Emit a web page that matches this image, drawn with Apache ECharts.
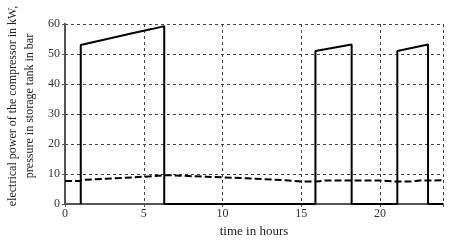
<!DOCTYPE html>
<html><head><meta charset="utf-8">
<script src="https://cdn.jsdelivr.net/npm/echarts@6/dist/echarts.min.js"></script>
<style>html,body{margin:0;padding:0;background:#fff}#c{width:450px;height:240px}</style>
</head><body><div id="c"></div>
<script>
var powerHours  = [1, 1, 4.2, 5.5, 6.3, 6.3, 15.9, 15.9, 18.2, 18.2, 21.1, 21.1, 23.05, 23.05, 24];
var powerValues = [0, 53, 56.8, 58.3, 59.3, 0, 0, 51, 53.2, 0, 0, 51, 53.2, 0, 0];
var pressureHours  = [0, 1, 1.3, 3, 5, 6.5, 7.5, 9, 10, 11.5, 12.5, 14, 15, 16, 16.5, 19, 20, 21, 22, 22.5, 24];
var pressureValues = [7.7, 7.7, 8.1, 8.5, 9.1, 9.6, 9.4, 9.1, 8.9, 8.6, 8.3, 7.9, 7.5, 7.5, 7.8, 7.8, 7.8, 7.5, 7.5, 7.8, 7.9];
var xTicks = [0, 5, 10, 15, 20];
var yTicks = [0, 10, 20, 30, 40, 50, 60];
var xTitle = 'time in hours';
var yTitle = 'electrical power of the compressor in kW,\npressure in storage tank in bar';

function pairs(xs, ys){ return xs.map(function(x,i){return [x, ys[i]];}); }
var font = 'Liberation Serif';
var frame = {color:'#555', width:2};
var grid = {show:true, lineStyle:{color:'#444', type:[3,3], width:1}};
var chart = echarts.init(document.getElementById('c'), null, {renderer:'canvas'});
chart.setOption({
  animation:false,
  grid:{left:65, right:7, top:24, bottom:36, containLabel:false, outerBoundsMode:'none'},
  graphic:[{
    type:'text', x:21, y:106, rotation:Math.PI/2,
    style:{text:yTitle, fontFamily:font, fontSize:12, fill:'#222', lineHeight:17,
      align:'center', verticalAlign:'middle'}
  }],
  xAxis:[{
    type:'value', min:0, max:24, interval:5,
    name:xTitle, nameLocation:'middle', nameGap:19,
    nameTextStyle:{fontFamily:font, fontSize:13, color:'#222'},
    axisLine:{show:true, lineStyle:frame},
    axisTick:{show:false},
    splitLine:grid,
    axisLabel:{fontFamily:font, fontSize:12, color:'#333', margin:4,
      formatter:function(v){return xTicks.indexOf(v)>=0 ? String(v) : '';}}
  },{
    type:'value', position:'top', min:0, max:24, interval:5,
    axisLine:{show:true, lineStyle:frame},
    axisTick:{show:true, inside:true, length:3, lineStyle:{color:'#555'}},
    axisLabel:{show:false}, splitLine:{show:false}
  }],
  yAxis:[{
    type:'value', min:0, max:60, interval:10,
    axisLine:{show:true, lineStyle:frame},
    axisTick:{show:true, length:3, lineStyle:{color:'#555'}},
    splitLine:grid,
    axisLabel:{fontFamily:font, fontSize:12, color:'#333', margin:5,
      formatter:function(v){return yTicks.indexOf(v)>=0 ? String(v) : '';}}
  },{
    type:'value', position:'right', min:0, max:60, interval:10,
    axisLine:{show:true, lineStyle:frame},
    axisTick:{show:true, inside:true, length:3, lineStyle:{color:'#555'}},
    axisLabel:{show:false}, splitLine:{show:false}
  }],
  series:[{
    type:'line', xAxisIndex:0, yAxisIndex:0, data:pairs(powerHours, powerValues),
    showSymbol:false, symbol:'none', lineStyle:{color:'#000', width:2}, z:5
  },{
    type:'line', xAxisIndex:0, yAxisIndex:0, data:pairs(pressureHours, pressureValues),
    showSymbol:false, symbol:'none', lineStyle:{color:'#000', width:2, type:[7,3]}, z:5
  }]
});
</script></body></html>
